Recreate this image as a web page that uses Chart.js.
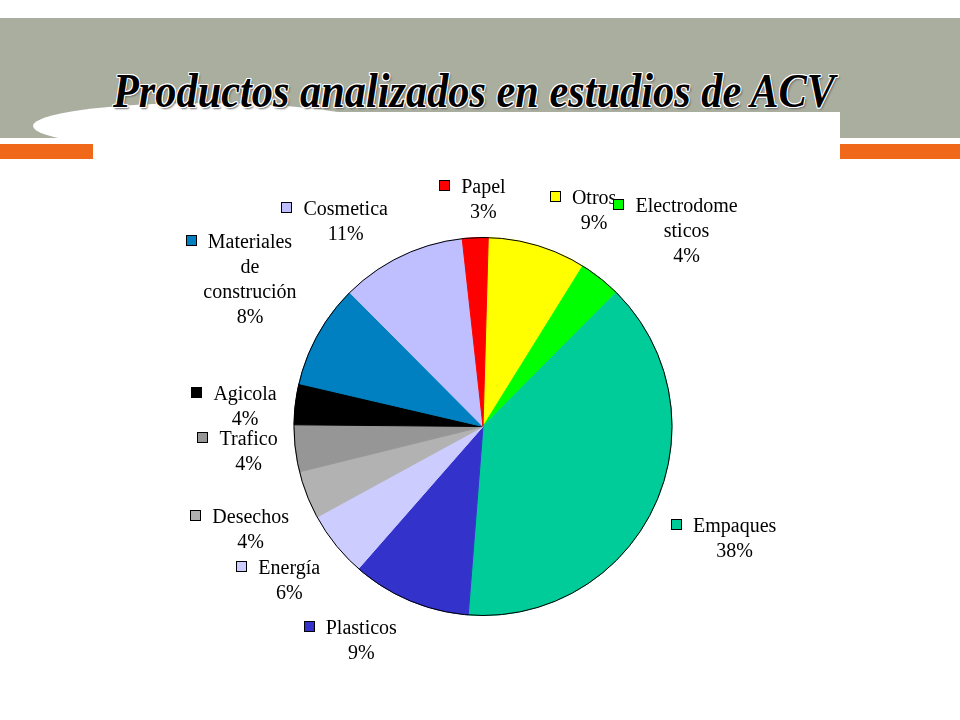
<!DOCTYPE html>
<html>
<head>
<meta charset="utf-8">
<script src="https://cdn.jsdelivr.net/npm/chart.js@4.4.1/dist/chart.umd.min.js"></script>
<style>
html,body{margin:0;padding:0;background:#fff;width:960px;height:720px;overflow:hidden;}
#stage{position:relative;width:960px;height:720px;}
.band{position:absolute;left:0;top:18px;width:960px;height:120px;background:#A9AE9F;}
.orange{position:absolute;left:0;top:144px;width:960px;height:15px;background:#F0691A;}
.ellipse{position:absolute;left:33px;top:103px;width:340px;height:46px;border-radius:50%;background:#fff;}
.whiteRect{position:absolute;left:93px;top:112px;width:747px;height:48px;background:#fff;}
#title{position:absolute;left:113px;top:66px;font-family:"Liberation Serif","Times New Roman",serif;font-style:italic;font-weight:bold;font-size:49px;line-height:49px;white-space:nowrap;color:#000;transform-origin:0 0;
text-shadow:1px 0 0 #fff,-1px 0 0 #fff,0 1px 0 #fff,0 -1px 0 #fff,1px 1px 0 #fff,-1px -1px 0 #fff,1px -1px 0 #fff,-1px 1px 0 #fff,2px 2px 2px #6f6f6f;}
#c{position:absolute;left:0;top:0;}
</style>
</head>
<body>
<div id="stage">
  <div class="band"></div>
  <div class="orange"></div>
  <div class="ellipse"></div>
  <div class="whiteRect"></div>
  <div id="title">Productos analizados en estudios de ACV</div>
  <canvas id="c" width="960" height="720"></canvas>
</div>
<script>
// ---- data ----
const categories = ['Otros','Electrodomesticos','Empaques','Plasticos','Energía','Desechos','Trafico','Agicola','Materiales de construción','Cosmetica','Papel'];
const shares = [8.4, 3.6, 38.8, 10.2, 5.6, 4.1, 4.0, 3.5, 8.9, 10.7, 2.2];
const pctLabels = ['9%','4%','38%','9%','6%','4%','4%','4%','8%','11%','3%'];
const labelLines = [['Otros'],['Electrodome','sticos'],['Empaques'],['Plasticos'],['Energía'],['Desechos'],['Trafico'],['Agicola'],['Materiales','de','construción'],['Cosmetica'],['Papel']];
const colors = ['#FFFF00','#00FF00','#00CC99','#3333CC','#CCCCFF','#B2B2B2','#969696','#000000','#0080C0','#BFBFFF','#FF0000'];

// ---- layout / style ----
const LINE_H = 25;
const GAP = 22;
const labelNudge = [[44,9],[41,-1],[22,13],[-26,-4],[-5,6],[0,17],[4,-3],[3,7],[-8,-21],[-28,7],[10,8]];

// fit title width
(function(){
  const t = document.getElementById('title');
  const w = t.getBoundingClientRect().width;
  t.style.transform = 'scaleX(' + (722 / w) + ')';
})();

const labelPlugin = {
  id: 'sliceLabels',
  afterDatasetsDraw(chart) {
    const ctx = chart.ctx;
    const meta = chart.getDatasetMeta(0);
    ctx.save();
    const a0 = meta.data[0];
    ctx.beginPath();
    ctx.arc(a0.x, a0.y, a0.outerRadius, 0, Math.PI * 2);
    ctx.lineWidth = 1;
    ctx.strokeStyle = '#000';
    ctx.stroke();
    ctx.font = '20px "Liberation Serif", "Times New Roman", serif';
    ctx.textAlign = 'center';
    ctx.textBaseline = 'alphabetic';
    meta.data.forEach((arc, i) => {
      const lines = labelLines[i].concat([pctLabels[i]]);
      const mid = (arc.startAngle + arc.endAngle) / 2;
      const dx = Math.cos(mid), dy = Math.sin(mid);
      const w = Math.max(...lines.map(l => ctx.measureText(l).width));
      const hw = w / 2, hh = lines.length * LINE_H / 2;
      const D = arc.outerRadius + GAP;
      const nd = labelNudge[i];
      const cx = arc.x + dx * (D + hw) + nd[0];
      const cy = arc.y + dy * (D + hh) + nd[1];
      const firstCenter = cy - (lines.length - 1) * LINE_H / 2;
      ctx.fillStyle = '#000';
      lines.forEach((t, k) => ctx.fillText(t, cx, firstCenter + k * LINE_H + 6.6));
      const tw = ctx.measureText(lines[0]).width;
      const bx = Math.round(cx - tw / 2 - 22), by = Math.round(firstCenter + 6.6 - 13);
      ctx.fillStyle = colors[i];
      ctx.fillRect(bx, by, 11, 11);
      ctx.strokeStyle = '#000';
      ctx.lineWidth = 1;
      ctx.strokeRect(bx + 0.5, by + 0.5, 10, 10);
    });
    ctx.restore();
  }
};

new Chart(document.getElementById('c'), {
  type: 'pie',
  data: {
    labels: categories,
    datasets: [{
      data: shares,
      backgroundColor: colors,
      borderColor: colors,
      borderWidth: 1
    }]
  },
  options: {
    responsive: false,
    animation: false,
    rotation: 1.6,
    events: [],
    layout: { padding: { top: 237, bottom: 104, left: 293.5, right: 287.5 } },
    plugins: { legend: { display: false }, tooltip: { enabled: false } }
  },
  plugins: [labelPlugin]
});
</script>
</body>
</html>
